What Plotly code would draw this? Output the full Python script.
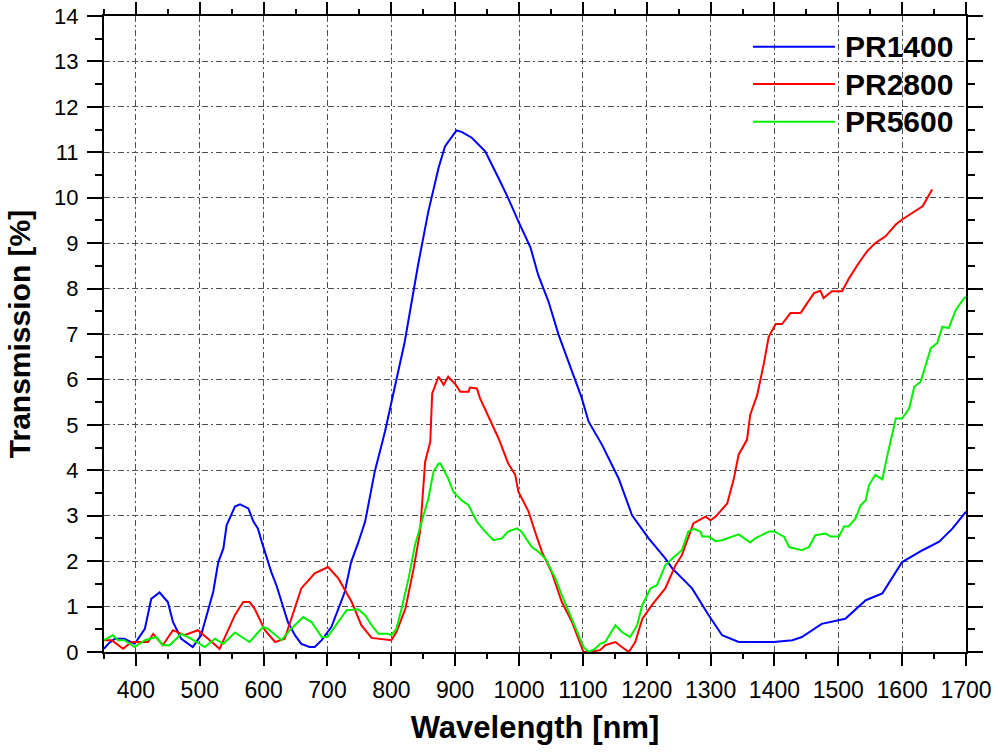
import plotly.graph_objects as go

# ---- data ----
blue_x = [350, 358, 367, 382, 398, 414, 424, 437, 450, 458, 471, 489, 502, 513, 521, 529, 537, 542, 555, 563,
          576, 584, 591, 597, 612, 620, 628, 638, 649, 659, 672, 680, 691, 706, 717, 727, 737, 748, 759, 774,
          790, 800, 808, 821, 842, 858, 874, 884, 902, 910, 926, 947, 968, 983, 999, 1018, 1030, 1046, 1062, 1072,
          1082, 1098, 1109, 1130, 1156, 1177, 1203, 1229, 1240, 1271, 1297, 1318, 1344, 1399, 1428, 1443, 1474,
          1511, 1543, 1569, 1600, 1632, 1658, 1679, 1700]
blue_y = [0.07, 0.2, 0.29, 0.29, 0.18, 0.51, 1.17, 1.31, 1.1, 0.66, 0.29, 0.11, 0.37, 0.95, 1.32, 1.98, 2.28, 2.79, 3.2, 3.25,
          3.16, 2.87, 2.72, 2.43, 1.76, 1.47, 1.1, 0.66, 0.37, 0.18, 0.11, 0.11, 0.26, 0.55, 0.95, 1.32, 1.98, 2.4, 2.87, 3.97,
          4.85, 5.5, 5.95, 6.83, 8.53, 9.7, 10.66, 11.13, 11.48, 11.45, 11.32, 11.02, 10.43, 9.99, 9.48, 8.9, 8.3, 7.72, 6.98, 6.6,
          6.25, 5.6, 5.07, 4.56, 3.82, 3.01, 2.5, 2.06, 1.84, 1.4, 0.81, 0.37, 0.22, 0.22, 0.26, 0.33, 0.62,
          0.73, 1.14, 1.29, 1.98, 2.24, 2.43, 2.72, 3.09]

red_x = [350, 362, 380, 393, 419, 427, 442, 458, 476, 497, 513, 531, 555, 568, 578, 586, 602, 618, 633, 659,
         680, 701, 717, 738, 753, 769, 800, 808, 822, 835, 845, 853, 861, 864, 874, 882, 889, 900, 908, 921,
         923, 934, 939, 952, 968, 983, 994, 999, 1015, 1025, 1036, 1051, 1067, 1083, 1093, 1101, 1110, 1127, 1135, 1151,
         1161, 1172, 1182, 1193, 1208, 1229, 1245, 1255, 1273, 1292, 1300, 1308, 1326, 1336, 1344, 1357, 1362, 1373, 1383, 1391,
         1402, 1412, 1425, 1441, 1446, 1462, 1472, 1477, 1490, 1506, 1517, 1530, 1545, 1558, 1574, 1590, 1600, 1621, 1632, 1647]
red_y = [0.26, 0.26, 0.07, 0.22, 0.22, 0.4, 0.15, 0.48, 0.37, 0.48, 0.29, 0.07, 0.81, 1.1, 1.1, 0.95, 0.48, 0.22, 0.29, 1.4,
         1.73, 1.87, 1.62, 1.1, 0.59, 0.31, 0.26, 0.44, 0.95, 1.84, 2.65, 4.19, 4.63, 5.69, 6.06, 5.88, 6.06, 5.9, 5.73, 5.73,
         5.82, 5.8, 5.58, 5.18, 4.7, 4.15, 3.9, 3.53, 3.09, 2.65, 2.2, 1.76, 1.1, 0.66, 0.29, 0.0, 0.0, 0.04, 0.15, 0.22,
         0.11, 0.0, 0.22, 0.73, 1.03, 1.4, 1.91, 2.13, 2.83, 2.98, 2.9, 2.98, 3.27, 3.79, 4.35, 4.67, 5.22, 5.66, 6.32, 6.94,
         7.22, 7.22, 7.46, 7.46, 7.57, 7.9, 7.95, 7.79, 7.94, 7.94, 8.23, 8.52, 8.82, 9.0, 9.15, 9.41, 9.52, 9.7, 9.81, 10.18]

green_x = [350, 364, 372, 382, 398, 414, 432, 442, 453, 471, 487, 508, 524, 537, 555, 578, 599, 607, 628, 641,
           662, 675, 691, 700, 730, 748, 759, 769, 780, 795, 800, 808, 816, 827, 837, 850, 858, 866, 874, 877,
           889, 897, 910, 921, 934, 947, 960, 973, 983, 997, 1004, 1020, 1031, 1041, 1057, 1067, 1080, 1091, 1101, 1109,
           1119, 1127, 1135, 1151, 1161, 1174, 1185, 1193, 1206, 1216, 1229, 1240, 1255, 1265, 1274, 1284, 1287, 1297, 1308, 1318,
           1334, 1344, 1362, 1370, 1391, 1399, 1415, 1423, 1443, 1454, 1464, 1480, 1488, 1501, 1509, 1516, 1527, 1535, 1543, 1548,
           1558, 1569, 1577, 1590, 1600, 1611, 1619, 1629, 1645, 1655, 1663, 1673, 1684, 1697, 1700]
green_y = [0.26, 0.37, 0.26, 0.26, 0.11, 0.26, 0.33, 0.15, 0.15, 0.4, 0.29, 0.11, 0.29, 0.18, 0.43, 0.22, 0.55, 0.51, 0.26, 0.48,
           0.77, 0.66, 0.33, 0.33, 0.92, 0.94, 0.81, 0.59, 0.4, 0.4, 0.37, 0.51, 0.95, 1.62, 2.35, 3.01, 3.38, 3.97, 4.15, 4.15,
           3.82, 3.53, 3.34, 3.23, 2.87, 2.65, 2.46, 2.5, 2.65, 2.72, 2.65, 2.31, 2.2, 2.06, 1.62, 1.25, 0.81, 0.44, 0.11, 0.0,
           0.07, 0.18, 0.22, 0.59, 0.44, 0.33, 0.59, 1.03, 1.4, 1.47, 1.91, 2.06, 2.24, 2.65, 2.71, 2.65, 2.54, 2.54, 2.44, 2.46,
           2.54, 2.59, 2.41, 2.5, 2.65, 2.66, 2.54, 2.31, 2.24, 2.31, 2.57, 2.61, 2.54, 2.54, 2.76, 2.76, 2.94, 3.23, 3.34, 3.67,
           3.9, 3.8, 4.34, 5.14, 5.14, 5.36, 5.84, 5.95, 6.69, 6.8, 7.16, 7.13, 7.53, 7.79, 7.82]

series_names = ["PR1400", "PR2800", "PR5600"]
series_colors = ["#0000ff", "#ff0000", "#00f000"]

x_title = "Wavelength [nm]"
y_title = "Transmission [%]"

FONT = "Liberation Sans, Arial, Helvetica, sans-serif"

# ---- figure ----
fig = go.Figure()
for name, xs, ys, col in zip(series_names, [blue_x, red_x, green_x], [blue_y, red_y, green_y], series_colors):
    fig.add_trace(go.Scatter(x=xs, y=ys, mode="lines", name=name,
                             line=dict(color=col, width=2), showlegend=False))

grid_style = dict(showgrid=True, gridcolor="#505050", gridwidth=1, griddash="6px,3px,2px,3px")
axis_common = dict(showline=True, linecolor="black", linewidth=2, mirror="allticks",
                   ticks="outside", tickwidth=2, tickcolor="black", zeroline=False, automargin=False,
                   ticklabeloverflow="allow")

fig.update_xaxes(range=[350, 1700], tick0=400, dtick=100, ticklen=12,
                 minor=dict(ticks="outside", ticklen=5, tickwidth=2, tickcolor="black", dtick=50, tick0=350, showgrid=False),
                 tickfont=dict(family=FONT, size=23, color="black"),
                 ticklabelstandoff=4,
                 title=dict(text=x_title, font=dict(family=FONT, size=31, color="black", weight="bold")),
                 **grid_style, **axis_common)
fig.update_yaxes(range=[0, 14], tick0=0, dtick=1, ticklen=15,
                 minor=dict(ticks="outside", ticklen=7, tickwidth=2, tickcolor="black", dtick=0.5, showgrid=False),
                 tickfont=dict(family=FONT, size=22, color="black"),
                 ticklabelstandoff=4,
                 title=dict(text=y_title, font=dict(family=FONT, size=30, color="black", weight="bold")),
                 **grid_style, **axis_common)

# manual legend (long line samples like the reference)
leg_rows = [0.9517, 0.893, 0.8338]
for name, col, yy in zip(series_names, series_colors, leg_rows):
    fig.add_shape(type="line", xref="paper", yref="paper", x0=0.7529, x1=0.848, y0=yy, y1=yy,
                  line=dict(color=col, width=2))
    fig.add_annotation(xref="paper", yref="paper", x=0.857, y=yy, xanchor="left", yanchor="middle",
                       text=name, showarrow=False,
                       font=dict(family=FONT, size=30, color="black", weight="bold"))

fig.update_layout(width=1000, height=753, margin=dict(l=104, r=34, t=16, b=101),
                  plot_bgcolor="white", paper_bgcolor="white")

# remove the browser's default 8px page margin so the figure sits at the window's top-left corner
fig.write_html("out.html", config={"displayModeBar": False},
               post_script="document.body.style.margin='0px';")
